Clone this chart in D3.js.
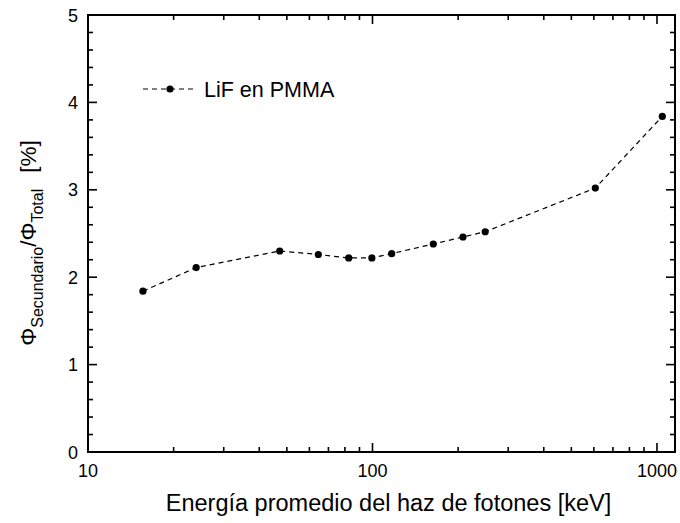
<!DOCTYPE html>
<html><head><meta charset="utf-8">
<script src="https://cdn.jsdelivr.net/npm/d3@7"></script>
<style>body{margin:0;background:#fff}svg{display:block}text{font-family:"Liberation Sans",Arial,sans-serif;fill:#000}</style>
</head><body><svg id="c" width="680" height="523"></svg>
<script>
const energy = [15.6, 24, 47.2, 64.5, 82.5, 99.5, 116.8, 163.6, 208, 249, 607, 1044];
const ratio = [1.84, 2.11, 2.30, 2.26, 2.22, 2.22, 2.27, 2.38, 2.46, 2.52, 3.02, 3.84];
const xTicks = [10, 100, 1000];
const yTicks = [0, 1, 2, 3, 4, 5];
const seriesName = "LiF en PMMA";

const svg = d3.select("#c");
const L = 88, R = 675, T = 15, B = 452;
const x = d3.scaleLog().domain([10, 1157]).range([L, R]);
const y = d3.scaleLinear().domain([0, 5]).range([B, T]);

const minorX = [];
for (let d = 10; d <= 1000; d *= 10) for (let k = 2; k <= 9; k++) if (d * k < 1157) minorX.push(d * k);
const minorY = d3.range(0, 5.001, 0.2).filter(v => Math.abs(v - Math.round(v)) > 1e-6);

const g = svg.append("g");
const xTickList = xTicks.map(v => ({v, s: 9})).concat(minorX.map(v => ({v, s: 5})));
const yTickList = yTicks.map(v => ({v, s: 9})).concat(minorY.map(v => ({v, s: 5})));
const tw = 1.6;
const tg = g.append("g").attr("fill", "#000");
tg.selectAll("rect.xb").data(xTickList).enter().append("rect").attr("class", "xb")
  .attr("x", d => x(d.v) - tw / 2).attr("y", d => B - d.s).attr("width", tw).attr("height", d => d.s);
tg.selectAll("rect.xt").data(xTickList).enter().append("rect").attr("class", "xt")
  .attr("x", d => x(d.v) - tw / 2).attr("y", T).attr("width", tw).attr("height", d => d.s);
tg.selectAll("rect.yl").data(yTickList).enter().append("rect").attr("class", "yl")
  .attr("x", L).attr("y", d => y(d.v) - tw / 2).attr("width", d => d.s).attr("height", tw);
tg.selectAll("rect.yr").data(yTickList).enter().append("rect").attr("class", "yr")
  .attr("x", d => R - d.s).attr("y", d => y(d.v) - tw / 2).attr("width", d => d.s).attr("height", tw);
g.append("rect").attr("x", L).attr("y", T).attr("width", R - L).attr("height", B - T)
  .attr("fill", "none").attr("stroke", "#000").attr("stroke-width", 2);

// tick labels
g.selectAll(".xlab").data(xTicks).join("text").attr("x", d => x(d)).attr("y", 477)
  .attr("text-anchor", "middle").attr("font-size", 18).text(d => d);
g.selectAll(".ylab").data(yTicks).join("text").attr("x", 78).attr("y", d => y(d) + 6.5)
  .attr("text-anchor", "end").attr("font-size", 18).text(d => d);

// data
const line = d3.line().x((d, i) => x(energy[i])).y(d => y(d));
g.append("path").datum(ratio).attr("d", line).attr("fill", "none").attr("stroke", "#000")
  .attr("stroke-width", 1.2).attr("stroke-dasharray", "5,4");
g.selectAll(".pt").data(ratio).join("circle").attr("cx", (d, i) => x(energy[i])).attr("cy", d => y(d))
  .attr("r", 3.6).attr("fill", "#000");

// legend
g.append("line").attr("x1", 143).attr("x2", 197).attr("y1", 89).attr("y2", 89)
  .attr("stroke", "#000").attr("stroke-width", 1.2).attr("stroke-dasharray", "5,4");
g.append("circle").attr("cx", 170).attr("cy", 89).attr("r", 3.6).attr("fill", "#000");
g.append("text").attr("x", 204).attr("y", 96.5).attr("font-size", 21.5).text(seriesName);

// axis titles
g.append("text").attr("x", 388.5).attr("y", 511).attr("text-anchor", "middle").attr("font-size", 23.5)
  .text("Energía promedio del haz de fotones [keV]");
const yt = g.append("text").attr("transform", "translate(36,243) rotate(-90)")
  .attr("text-anchor", "middle").attr("font-size", 22.5);
yt.append("tspan").text("Φ");
yt.append("tspan").attr("font-size", 16).attr("dy", 7).text("Secundario");
yt.append("tspan").attr("dy", -7).text("/Φ");
yt.append("tspan").attr("font-size", 16).attr("dy", 7).text("Total");
yt.append("tspan").attr("dy", -7).attr("dx", 16).text("[%]");
</script></body></html>
